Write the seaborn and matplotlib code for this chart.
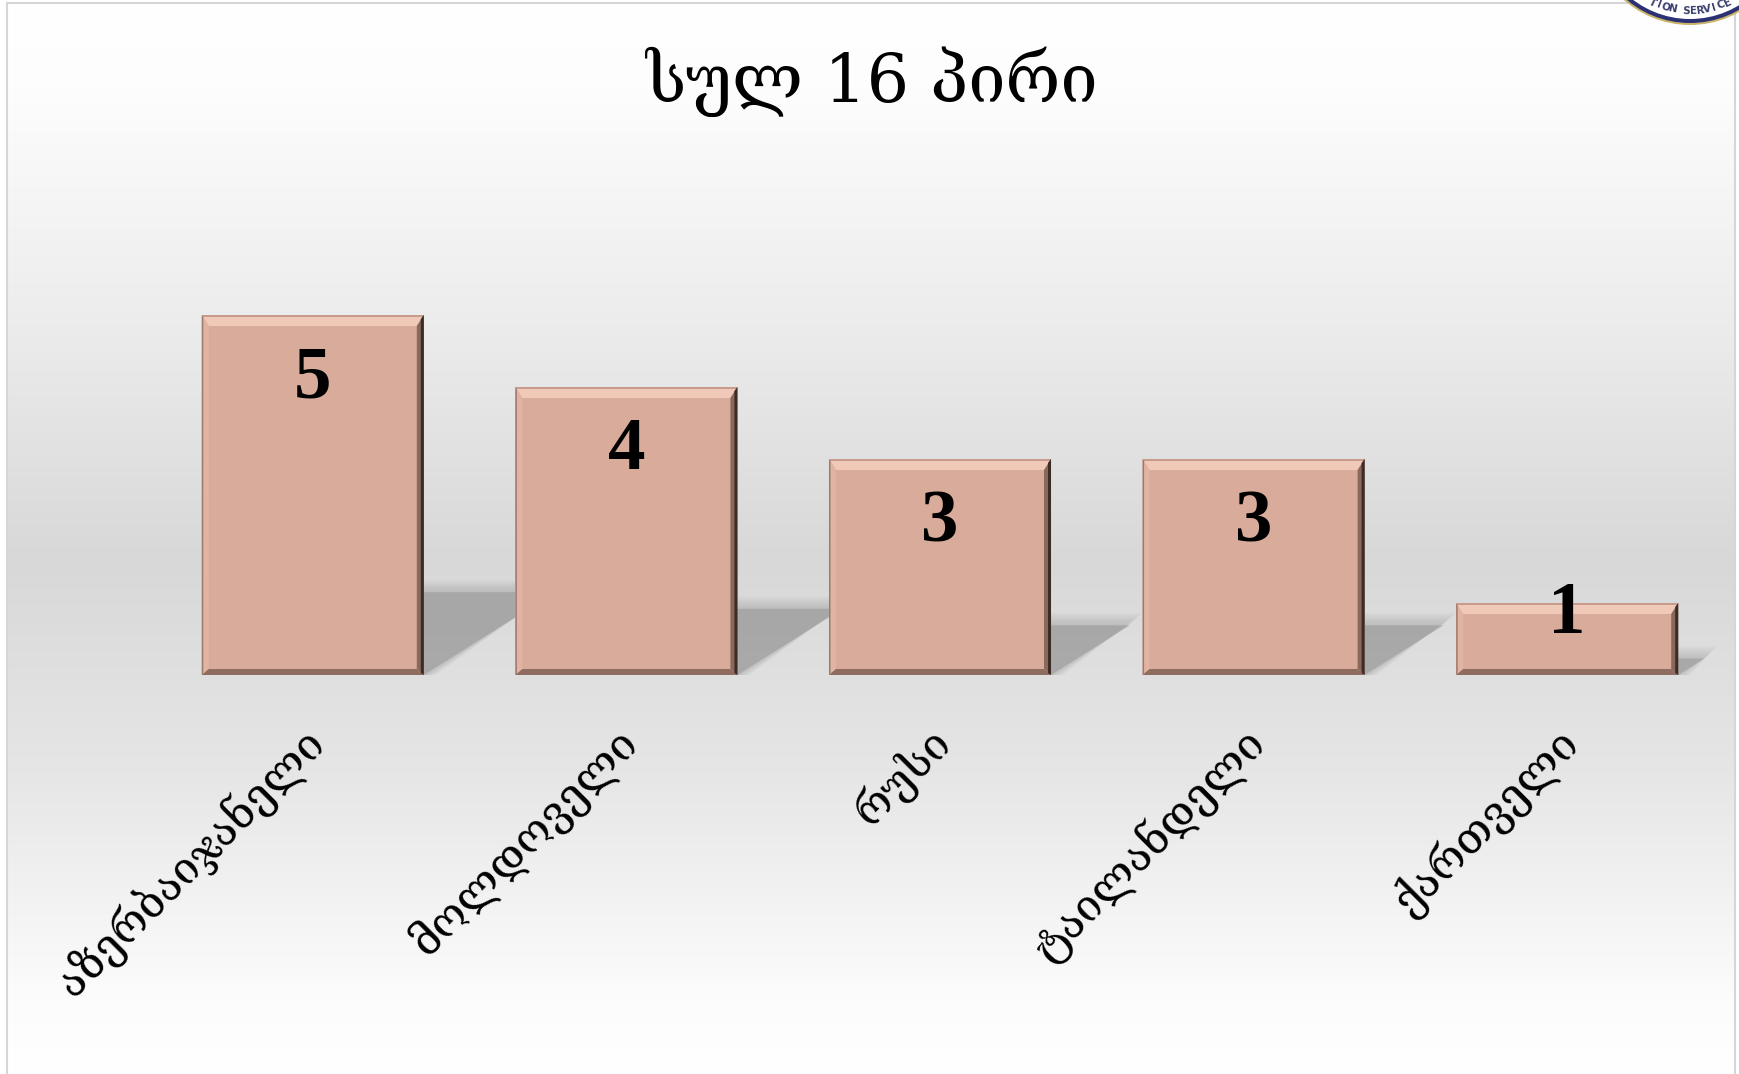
import numpy as np
import matplotlib
matplotlib.use("Agg")
import matplotlib.pyplot as plt
import seaborn as sns
from matplotlib.patches import Polygon, Circle
from matplotlib.colors import LinearSegmentedColormap
from matplotlib.transforms import ScaledTranslation

# ---- data ----
categories = ["აზერბაიჯანელი", "მოლდოველი", "რუსი", "ტაილანდელი", "ქართველი"]
values = [5, 4, 3, 3, 1]
title_text = "სულ 16 პირი"
logo_text = "TION SERVICE"

W, H, DPI = 1739, 1074, 100
sns.set_theme(style="white")
plt.rcParams["font.family"] = ["DejaVu Serif", "DejaVu Sans"]

fig = plt.figure(figsize=(W / DPI, H / DPI), dpi=DPI)
fig.patch.set_facecolor("white")

# ---- background gradient panel ----
bg = fig.add_axes([7 / W, 0, (1735 - 7) / W, 1 - 3 / H], zorder=-10)
stops = [(0.0, "#ffffff"), (0.08, "#fdfdfd"), (0.30, "#ececec"), (0.52, "#d8d8d8"),
         (0.72, "#e6e6e6"), (0.93, "#fcfcfc"), (1.0, "#ffffff")]
cmap = LinearSegmentedColormap.from_list("bg", stops)
grad = np.linspace(0, 1, 512).reshape(-1, 1)
bg.imshow(grad, aspect="auto", cmap=cmap, extent=[0, 1, 0, 1], origin="upper", vmin=0, vmax=1)
bg.set_xlim(0, 1); bg.set_ylim(0, 1)
bg.set_xticks([]); bg.set_yticks([])
for side in ["left", "top", "right"]:
    bg.spines[side].set_color("#d6d6d6")
    bg.spines[side].set_linewidth(1.5)
bg.spines["bottom"].set_visible(False)

# ---- main axes ----
x_left_px, x_right_px = 156, 1724
y0_px, unit_px = 675, 72
ymax = 6
ax = fig.add_axes([x_left_px / W, (H - y0_px) / H, (x_right_px - x_left_px) / W, ymax * unit_px / H], zorder=2)
ax.set_facecolor("none")

bar_color = "#d8ab9b"
sns.barplot(x=categories, y=values, color=bar_color, width=0.708, saturation=1,
            edgecolor="none", linewidth=0, ax=ax, zorder=3)
ax.set_xlim(-0.5, len(categories) - 0.5)
ax.set_ylim(0, ymax)
for s in ax.spines.values():
    s.set_visible(False)
ax.set_yticks([])
ax.set_ylabel("")
ax.set_xlabel("")

# pixel -> data conversions
p0 = ax.transData.transform((0, 0))
p1 = ax.transData.transform((1, 1))
px_x = 1.0 / (p1[0] - p0[0])
px_y = 1.0 / (p1[1] - p0[1])

# ---- shadows and bevels ----
for patch, v in zip(ax.patches, values):
    x0 = patch.get_x(); w = patch.get_width(); x1 = x0 + w
    h = patch.get_height()
    hs = 0.23 * v
    dx = (hs / px_y) / 0.63 * px_x
    for k in range(6, -1, -1):
        ex = k * 2.0 * px_x
        ey = k * 2.0 * px_y
        poly = [(x0, 0), (x0 + dx, hs + ey), (x1 + dx + ex, hs + ey), (x1 + ex, 0)]
        a = 0.40 if k == 0 else 0.06
        ax.add_patch(Polygon(poly, closed=True, facecolor="#858585", edgecolor="none",
                             alpha=a, zorder=2))
    # bevel
    t, s, b = 11 * px_y, 7 * px_x, 6 * px_y
    y1 = h
    ax.add_patch(Polygon([(x0, y1), (x1, y1), (x1 - s, y1 - t), (x0 + s, y1 - t)],
                         facecolor="#f0c9b9", edgecolor="none", zorder=4))
    ax.add_patch(Polygon([(x0, y1), (x1, y1), (x1 - 1.5 * px_x, y1 - 2 * px_y), (x0 + 1.5 * px_x, y1 - 2 * px_y)],
                         facecolor="#c89c8c", edgecolor="none", zorder=4))
    ax.add_patch(Polygon([(x0, 0), (x0, y1), (x0 + s, y1 - t), (x0 + s, b)],
                         facecolor="#e0b3a3", edgecolor="none", zorder=4))
    ax.add_patch(Polygon([(x0, 0), (x0, y1), (x0 + 1.5 * px_x, y1 - 2 * px_y), (x0 + 1.5 * px_x, 1.5 * px_y)],
                         facecolor="#9e7a6d", edgecolor="none", zorder=4))
    ax.add_patch(Polygon([(x0, 0), (x1, 0), (x1 - s, b), (x0 + s, b)],
                         facecolor="#8e6c60", edgecolor="none", zorder=4))
    ax.add_patch(Polygon([(x1, 0), (x1, y1), (x1 - s, y1 - t), (x1 - s, b)],
                         facecolor="#8a695d", edgecolor="none", zorder=5))
    ax.add_patch(Polygon([(x1, 0), (x1, y1), (x1 - 3 * px_x, y1 - 4 * px_y), (x1 - 3 * px_x, 2 * px_y)],
                         facecolor="#3d2b26", edgecolor="none", zorder=5))

# ---- value labels ----
for i, v in enumerate(values):
    off_px = 64 if v * unit_px > 150 else 12
    ax.annotate(str(v), xy=(i, v), xytext=(0, -off_px * 72 / DPI), textcoords="offset points",
                ha="center", va="center", fontsize=54, fontweight="bold",
                family=["Liberation Serif", "DejaVu Serif"], color="black", zorder=6)

# ---- category labels ----
ax.set_xticks(range(len(categories)))
ax.set_xticklabels(categories, rotation=45, ha="right", va="top", rotation_mode="anchor",
                   fontsize=31.5, color="black")
ax.tick_params(axis="x", length=0, pad=44 * 72 / DPI)
for lbl in ax.get_xticklabels():
    lbl.set_transform(lbl.get_transform() + ScaledTranslation(-12 / DPI, 0, fig.dpi_scale_trans))

# ---- title ----
fig.text(872 / W, 1 - 102 / H, title_text, ha="center", va="baseline", fontsize=48,
         family=["DejaVu Serif", "DejaVu Sans"], color="black")

# ---- partial logo at top right ----
lg = fig.add_axes([0, 0, 1, 1], zorder=5)
lg.set_xlim(0, W); lg.set_ylim(H, 0)
lg.axis("off")
cx, cy, r = 1690, -75, 98
lg.add_patch(Circle((cx, cy), r + 2, facecolor="#c9b46a", edgecolor="none"))
lg.add_patch(Circle((cx, cy), r, facecolor="#2b3173", edgecolor="none"))
lg.add_patch(Circle((cx, cy), r - 4, facecolor="white", edgecolor="none"))
step = 4.7
n = len(logo_text)
for j, ch in enumerate(logo_text):
    phi = (j - (n - 1) / 2) * step
    rad = np.deg2rad(phi)
    tx = cx + 86 * np.sin(rad)
    ty = cy + 86 * np.cos(rad)
    lg.text(tx, ty, ch, ha="center", va="center", rotation=phi, fontsize=7.5,
            family="DejaVu Sans", color="#3a3f6e", fontweight="bold")

fig.savefig("out.png", dpi=DPI)
